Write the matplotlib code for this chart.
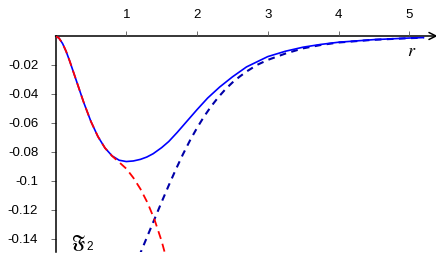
import matplotlib
matplotlib.use("Agg")
import matplotlib.pyplot as plt

plt.rcParams["font.family"] = ["Liberation Sans", "DejaVu Sans"]
plt.rcParams["mathtext.fontset"] = "stix"
plt.rcParams["axes.unicode_minus"] = False

# values
r_full = [0, 0.05, 0.1, 0.15, 0.2, 0.3, 0.4, 0.5, 0.6, 0.7, 0.8, 0.9, 1.0, 1.1, 1.2,
          1.29, 1.38, 1.5, 1.6, 1.72, 1.85, 2.0, 2.15, 2.32, 2.5, 2.7, 3.0, 3.25, 3.5,
          3.75, 4.0, 4.5, 5.0, 5.2]
f_full = [0, -0.0015, -0.0052, -0.0106, -0.0172, -0.0316, -0.046, -0.0589, -0.0694,
          -0.0773, -0.0827, -0.0857, -0.0866, -0.0862, -0.0851, -0.0835, -0.0812,
          -0.077, -0.0728, -0.0665, -0.0592, -0.0508, -0.0428, -0.0352, -0.0282,
          -0.0213, -0.0142, -0.0105, -0.0077, -0.0058, -0.0043, -0.0025, -0.0014,
          -0.0011]

r_small = [0, 0.05, 0.1, 0.15, 0.2, 0.3, 0.4, 0.5, 0.6, 0.7, 0.8, 0.9, 1.0, 1.1, 1.2,
           1.3, 1.4, 1.5, 1.55]
f_small = [0, -0.0015, -0.0052, -0.0106, -0.0172, -0.0316, -0.046, -0.0589, -0.0694,
           -0.0773, -0.0828, -0.0871, -0.0915, -0.0978, -0.1055, -0.115, -0.1268,
           -0.1415, -0.1505]

r_large = [1.18, 1.2, 1.3, 1.4, 1.5, 1.6, 1.7, 1.8, 1.9, 2.0, 2.1, 2.2, 2.3, 2.4, 2.5,
           2.6, 2.7, 2.85, 3.0, 3.25, 3.5, 3.75, 4.0, 4.5, 5.0, 5.2]
f_large = [-0.152, -0.1497, -0.1379, -0.1262, -0.1145, -0.1031, -0.0921, -0.0817,
           -0.0721, -0.0634, -0.0555, -0.0485, -0.0423, -0.0368, -0.0321, -0.0281,
           -0.0245, -0.0199, -0.0165, -0.0121, -0.0085, -0.0062, -0.0045, -0.0026,
           -0.0015, -0.0012]

xticks = [1, 2, 3, 4, 5]
yticks = [-0.02, -0.04, -0.06, -0.08, -0.1, -0.12, -0.14]
ytick_labels = ["-0.02", "-0.04", "-0.06", "-0.08", "-0.1", "-0.12", "-0.14"]

fig = plt.figure(figsize=(4.36, 2.72), dpi=100)
ax = fig.add_axes([55.5 / 436, 20 / 272, 380 / 436, 216 / 272])

ax.plot(r_full, f_full, color="#0000ff", lw=1.2, zorder=3)
ax.plot(r_small, f_small, color="#ff0000", lw=1.3, dashes=(4.5, 2.8), zorder=4)
ax.plot(r_large, f_large, color="#0000a8", lw=1.5, dashes=(3.2, 2.6), zorder=2)

ax.set_xlim(0, 5.37)
ax.set_ylim(-0.149, 0)

for s in ["top", "right", "bottom"]:
    ax.spines[s].set_visible(False)
ax.spines["left"].set_linewidth(1.1)

# x axis drawn at y = 0 with an arrow head
ax.annotate("", xy=(5.4, 0), xytext=(0, 0), xycoords="data",
            arrowprops=dict(arrowstyle="->,head_length=0.5,head_width=0.25",
                            lw=1.1, color="black", shrinkA=0, shrinkB=0),
            annotation_clip=False, zorder=1)

ax.xaxis.tick_top()
ax.set_xticks(xticks)
ax.set_xticklabels([str(t) for t in xticks])
ax.tick_params(axis="x", direction="out", length=3.5, width=0.6, pad=7,
               labelsize=9.5, colors="#555555", labelcolor="black")
ax.set_yticks(yticks)
ax.set_yticklabels(ytick_labels)
ax.tick_params(axis="y", direction="out", length=3.5, width=0.6, pad=9,
               labelsize=9.5, colors="#555555", labelcolor="black")

ax.text(5.04, -0.011, r"$r$", fontsize=13, ha="center", va="center")
ax.text(0.22, -0.1455, r"$\mathfrak{F}$", fontsize=13, ha="left", va="baseline")
ax.text(0.44, -0.1478, "2", fontsize=8.5, ha="left", va="baseline")

fig.savefig("out.png", dpi=100)
